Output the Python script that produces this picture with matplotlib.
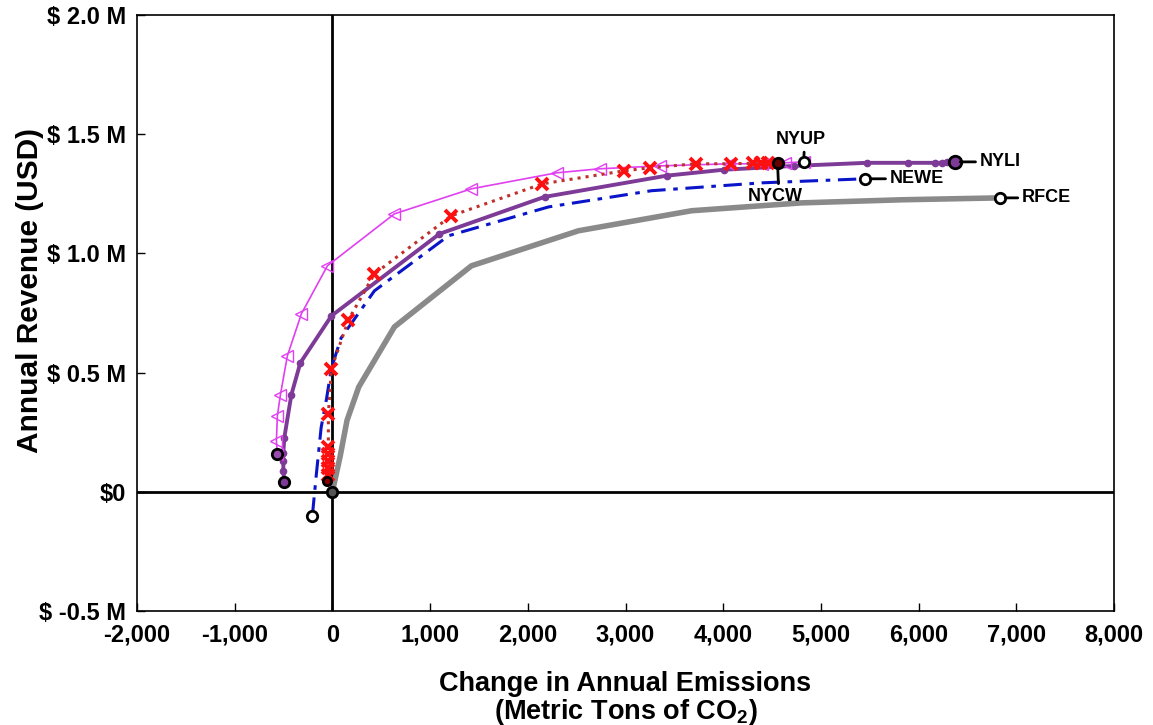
import matplotlib
matplotlib.use("Agg")
import matplotlib.pyplot as plt
from matplotlib.ticker import FixedLocator, FixedFormatter, FuncFormatter

plt.rcParams['font.family'] = ['Liberation Sans', 'DejaVu Sans']
plt.rcParams['font.weight'] = 'bold'
plt.rcParams['mathtext.fontset'] = 'custom'
plt.rcParams['mathtext.rm'] = 'Liberation Sans:bold'
plt.rcParams['mathtext.bf'] = 'Liberation Sans:bold'
plt.rcParams['mathtext.default'] = 'bf'

# Change in annual emissions (t CO2) vs. annual revenue (million USD)
rfce_x = [0, 80, 150, 270, 635, 1423, 2519, 3676, 4803, 5830, 6830]
rfce_y = [0.0, 0.15, 0.30, 0.44, 0.692, 0.948, 1.095, 1.179, 1.212, 1.225, 1.233]

newe_x = [-205, -165, -115, -60, -10, 90, 430, 1188, 2212, 3266, 4393, 5448]
newe_y = [-0.10, 0.07, 0.27, 0.39, 0.52, 0.646, 0.843, 1.074, 1.195, 1.263, 1.296, 1.313]

nyli_x = [-492, -502, -502, -502, -492, -420, -328, -10, 1096, 2171, 3420, 4004,
          4721, 5468, 5888, 6164, 6236, 6287, 6369]
nyli_y = [0.042, 0.088, 0.130, 0.164, 0.227, 0.407, 0.541, 0.738, 1.082, 1.237,
          1.326, 1.351, 1.367, 1.380, 1.380, 1.380, 1.380, 1.382, 1.384]

nyup_x = [-563, -573, -563, -532, -461, -317, -51, 635, 1423, 2294, 2734, 3348,
          4055, 4393, 4628, 4823]
nyup_y = [0.159, 0.214, 0.319, 0.407, 0.570, 0.747, 0.948, 1.166, 1.271, 1.338,
          1.355, 1.367, 1.376, 1.376, 1.380, 1.384]

nycw_x = [-51, -41, -41, -41, -41, -41, -41, -10, 164, 430, 1218, 2150, 2980,
          3246, 3717, 4075, 4300, 4383, 4454, 4556]
nycw_y = [0.046, 0.07, 0.10, 0.13, 0.16, 0.19, 0.327, 0.516, 0.721, 0.914, 1.158,
          1.292, 1.346, 1.359, 1.376, 1.376, 1.378, 1.378, 1.380, 1.380]

x_ticks = [-2000, -1000, 0, 1000, 2000, 3000, 4000, 5000, 6000, 7000, 8000]
y_ticks = [-0.5, 0.0, 0.5, 1.0, 1.5, 2.0]
y_tick_labels = ['$ -0.5 M', '$0', '$ 0.5 M', '$ 1.0 M', '$ 1.5 M', '$ 2.0 M']

C_RFCE = '#8a8a8a'
C_NEWE = '#0a14c8'
C_NYLI = '#7d3a96'
C_NYUP = '#e040f0'
C_NYCW_LINE = '#c0302a'
C_NYCW_MK = '#ff1010'

fig = plt.figure(figsize=(11.53, 7.25), dpi=100)
ax = fig.add_axes([0.1188, 0.1572, 0.8474, 0.8221])

ax.axhline(0, color='black', lw=2, zorder=1)
ax.axvline(0, color='black', lw=2, zorder=1)

ax.plot(rfce_x, rfce_y, color=C_RFCE, lw=4, solid_joinstyle='round', zorder=2)
ax.plot(newe_x, newe_y, color=C_NEWE, lw=2.2, ls=(0, (6, 2.5, 1.5, 2.5)), zorder=3)
ax.plot(nyli_x, nyli_y, color=C_NYLI, lw=2.8, marker='o', ms=4.5, zorder=4)
ax.plot(nyup_x, nyup_y, color=C_NYUP, lw=1.2, marker='<', ms=8,
        mfc='none', mec=C_NYUP, mew=1.0, zorder=5)
ax.plot(nycw_x, nycw_y, color=C_NYCW_LINE, lw=2.2, ls=':', zorder=6)
ax.plot(nycw_x[1:-1], nycw_y[1:-1], ls='none', marker='x', ms=8, mew=2.8,
        color=C_NYCW_MK, zorder=7)

# start / end markers of each series
def ends(xs, ys, face_start, face_end, ms_start=7.5, ms_end=7.5):
    ax.plot([xs[0]], [ys[0]], ls='none', marker='o', ms=ms_start, mfc=face_start,
            mec='black', mew=2, zorder=9)
    ax.plot([xs[-1]], [ys[-1]], ls='none', marker='o', ms=ms_end, mfc=face_end,
            mec='black', mew=2, zorder=9)

ends(rfce_x, rfce_y, '#555555', 'white')
ends(newe_x, newe_y, 'white', 'white')
ends(nyli_x, nyli_y, C_NYLI, C_NYLI, ms_end=9)
ends(nyup_x, nyup_y, '#9a4cb0', 'white')
ends(nycw_x, nycw_y, '#8b0000', '#6a0000', ms_start=6)

lab_kw = dict(fontsize=13, fontweight='bold', textcoords='offset points', zorder=10)
arr = dict(arrowstyle='-', lw=2, color='black', shrinkA=1, shrinkB=4)
ax.annotate('NYLI', xy=(nyli_x[-1], nyli_y[-1]), xytext=(18, 0), ha='left', va='center',
            arrowprops=dict(arr, relpos=(0, 0.5)), **lab_kw)
ax.annotate('NEWE', xy=(newe_x[-1], newe_y[-1]), xytext=(18, 0), ha='left', va='center',
            arrowprops=dict(arr, relpos=(0, 0.5)), **lab_kw)
ax.annotate('RFCE', xy=(rfce_x[-1], rfce_y[-1]), xytext=(16, 0), ha='left', va='center',
            arrowprops=dict(arr, relpos=(0, 0.5)), **lab_kw)
ax.annotate('NYUP', xy=(nyup_x[-1], nyup_y[-1]), xytext=(-2, 10), ha='center', va='bottom',
            arrowprops=dict(arr, relpos=(0.57, 0)), **lab_kw)
ax.annotate('NYCW', xy=(nycw_x[-1], nycw_y[-1]), xytext=(-2, -18), ha='center', va='top',
            arrowprops=dict(arr, relpos=(0.57, 1)), **lab_kw)

ax.set_xlim(-2000, 8000)
ax.set_ylim(-0.5, 2.0)
ax.xaxis.set_major_locator(FixedLocator(x_ticks))
ax.xaxis.set_major_formatter(FuncFormatter(lambda v, p: f'{v:,.0f}'))
ax.yaxis.set_major_locator(FixedLocator(y_ticks))
ax.yaxis.set_major_formatter(FixedFormatter(y_tick_labels))
ax.tick_params(direction='in', length=6, width=1, labelsize=17)
ax.tick_params(axis='x', pad=9)
ax.tick_params(axis='y', pad=8)
for lbl in ax.get_xticklabels() + ax.get_yticklabels():
    lbl.set_fontweight('bold')
for sp in ax.spines.values():
    sp.set_linewidth(1.2)

ax.set_xlabel('Change in Annual Emissions\n(Metric Tons of CO$_2$)', fontsize=19.5,
              fontweight='bold', linespacing=1.0)
ax.xaxis.set_label_coords(0.5, -0.1475)
ax.xaxis.label.set_va('center')
ax.set_ylabel('Annual Revenue (USD)', fontsize=21.5, fontweight='bold')
ax.yaxis.set_label_coords(-0.1095, 0.538)
ax.yaxis.label.set_va('center')

fig.savefig('out.png', dpi=100)
